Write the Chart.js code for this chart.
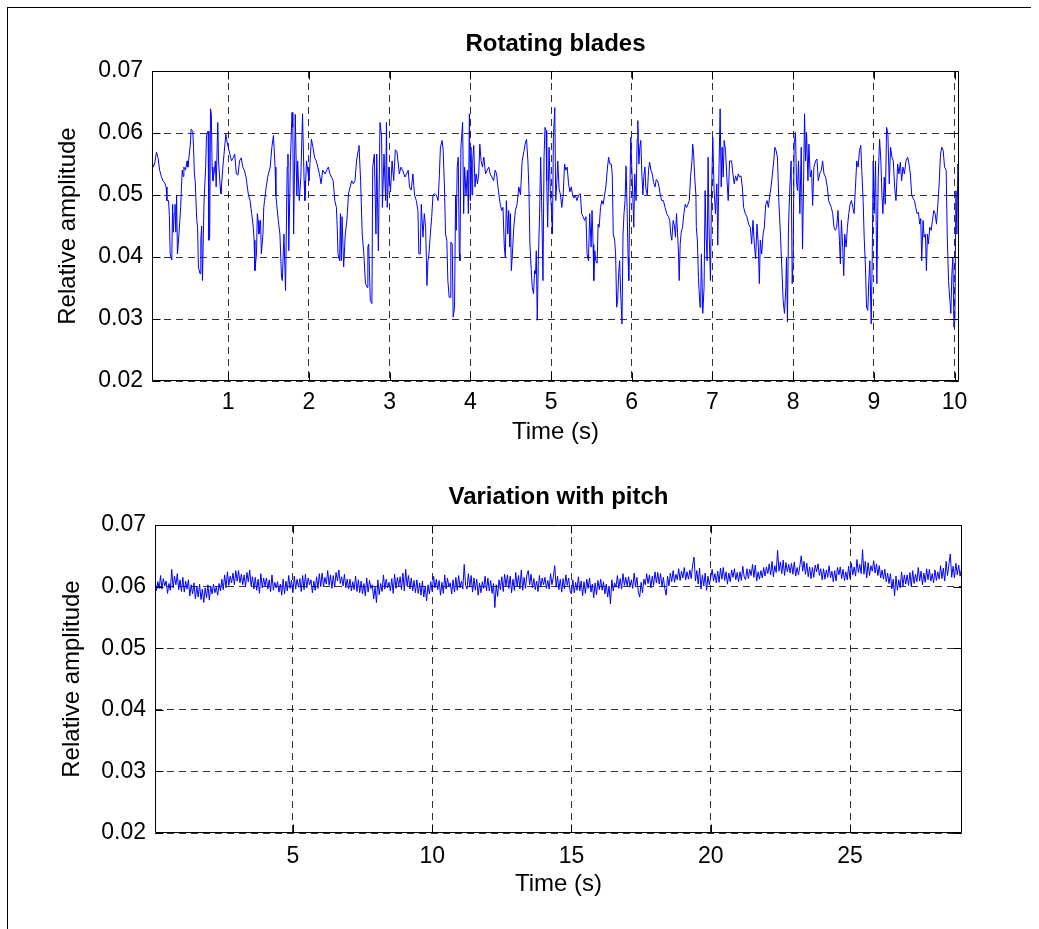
<!DOCTYPE html>
<html>
<head>
<meta charset="utf-8">
<script src="https://cdn.jsdelivr.net/npm/chart.js@4.4.1/dist/chart.umd.min.js"></script>
<style>
body{margin:0;background:#fff;}
#fig{position:relative;width:1039px;height:929px;overflow:hidden;background:#fff;}
#fig canvas{position:absolute;left:0;}
#frameTop{position:absolute;left:7px;top:7px;width:1024px;height:1px;background:#000;}
#frameLeft{position:absolute;left:7px;top:7px;width:1px;height:922px;background:#000;}
</style>
</head>
<body>
<div id="fig">
<canvas id="bladesChart" width="1039" height="460" style="top:0"></canvas>
<canvas id="pitchChart" width="1039" height="469" style="top:460px"></canvas>
<div id="frameTop"></div><div id="frameLeft"></div>
</div>
<script>
// top panel: rotating blades, time (s) and relative amplitude
const bladesTime = [
0.05,0.07,0.09,0.11,0.13,0.15,0.17,0.19,0.21,0.23,
0.24,0.26,0.27,0.28,0.30,0.31,0.32,0.33,0.34,0.35,
0.36,0.37,0.38,0.40,0.41,0.42,0.43,0.44,0.45,0.47,
0.49,0.50,0.53,0.54,0.56,0.57,0.58,0.59,0.61,0.62,
0.63,0.65,0.66,0.67,0.68,0.70,0.72,0.73,0.75,0.76,
0.77,0.78,0.79,0.80,0.81,0.83,0.84,0.85,0.87,0.88,
0.90,0.91,0.93,0.94,0.97,0.99,1.02,1.04,1.06,1.08,
1.10,1.12,1.14,1.16,1.18,1.20,1.22,1.25,1.27,1.29,
1.31,1.32,1.33,1.35,1.36,1.37,1.38,1.40,1.41,1.43,
1.44,1.45,1.47,1.49,1.52,1.54,1.56,1.58,1.59,1.60,
1.62,1.64,1.66,1.67,1.69,1.71,1.73,1.74,1.75,1.77,
1.79,1.80,1.81,1.83,1.85,1.86,1.88,1.90,1.92,1.94,
1.95,1.97,1.99,2.00,2.03,2.05,2.07,2.09,2.11,2.13,
2.15,2.17,2.20,2.22,2.24,2.26,2.28,2.30,2.32,2.34,
2.35,2.36,2.38,2.39,2.40,2.41,2.43,2.45,2.47,2.49,
2.51,2.53,2.55,2.57,2.59,2.61,2.62,2.64,2.66,2.68,
2.70,2.72,2.73,2.74,2.76,2.78,2.79,2.81,2.83,2.84,
2.86,2.88,2.90,2.91,2.93,2.95,2.96,2.97,2.99,3.01,
3.03,3.05,3.07,3.09,3.12,3.14,3.16,3.19,3.21,3.23,
3.246,3.267,3.288,3.308,3.330,3.350,3.362,3.379,3.392,3.413,
3.429,3.446,3.462,3.475,3.487,3.504,3.521,3.537,3.558,3.579,
3.600,3.613,3.629,3.650,3.663,3.679,3.692,3.708,3.721,3.738,
3.750,3.758,3.775,3.787,3.804,3.817,3.825,3.837,3.850,3.863,
3.871,3.883,3.904,3.917,3.929,3.946,3.963,3.975,3.988,4.000,
4.008,4.021,4.029,4.042,4.058,4.071,4.088,4.104,4.117,4.133,
4.150,4.167,4.188,4.208,4.229,4.246,4.267,4.288,4.308,4.325,
4.338,4.354,4.371,4.388,4.404,4.421,4.433,4.446,4.463,4.475,
4.488,4.496,4.508,4.521,4.538,4.558,4.579,4.600,4.621,4.642,
4.663,4.679,4.696,4.713,4.725,4.738,4.754,4.767,4.783,4.796,
4.808,4.817,4.829,4.842,4.858,4.871,4.883,4.900,4.913,4.925,
4.938,4.946,4.958,4.975,4.992,5.004,5.017,5.029,5.046,5.058,
5.071,5.083,5.100,5.117,5.133,5.150,5.167,5.183,5.200,5.217,
5.233,5.250,5.267,5.283,5.300,5.321,5.342,5.363,5.379,5.396,
5.417,5.433,5.446,5.463,5.479,5.496,5.508,5.521,5.529,5.542,
5.554,5.571,5.583,5.596,5.613,5.629,5.646,5.663,5.679,5.696,
5.713,5.729,5.746,5.758,5.771,5.788,5.800,5.813,5.825,5.838,
5.850,5.863,5.879,5.892,5.904,5.917,5.929,5.942,5.954,5.963,
5.975,5.988,6.000,6.013,6.025,6.037,6.054,6.067,6.075,6.088,
6.100,6.112,6.125,6.138,6.150,6.163,6.175,6.192,6.208,6.221,
6.238,6.254,6.271,6.288,6.304,6.321,6.338,6.354,6.371,6.392,
6.413,6.433,6.454,6.471,6.483,6.496,6.513,6.529,6.542,6.554,
6.567,6.579,6.588,6.600,6.613,6.629,6.646,6.663,6.679,6.696,
6.713,6.729,6.746,6.755,6.765,6.780,6.795,6.800,6.813,6.826,
6.834,6.846,6.855,6.863,6.880,6.896,6.909,6.920,6.934,6.946,
6.959,6.975,6.988,7.004,7.020,7.037,7.054,7.066,7.079,7.095,
7.108,7.120,7.133,7.145,7.162,7.178,7.195,7.212,7.237,7.253,
7.270,7.286,7.303,7.320,7.336,7.353,7.370,7.386,7.407,7.427,
7.448,7.469,7.486,7.502,7.519,7.535,7.552,7.569,7.581,7.593,
7.610,7.627,7.643,7.660,7.676,7.693,7.710,7.726,7.743,7.760,
7.772,7.788,7.805,7.822,7.842,7.859,7.876,7.892,7.909,7.917,
7.929,7.942,7.959,7.975,7.988,8.000,8.012,8.029,8.041,8.054,
8.066,8.083,8.100,8.116,8.129,8.141,8.154,8.166,8.183,8.195,
8.212,8.228,8.241,8.257,8.278,8.295,8.311,8.328,8.349,8.365,
8.382,8.402,8.423,8.440,8.456,8.473,8.490,8.506,8.523,8.539,
8.556,8.573,8.585,8.598,8.614,8.627,8.639,8.656,8.672,8.689,
8.705,8.722,8.739,8.755,8.772,8.788,8.805,8.822,8.838,8.850,
8.867,8.880,8.896,8.909,8.925,8.938,8.950,8.967,8.980,8.992,
9.004,9.021,9.037,9.054,9.071,9.087,9.100,9.112,9.129,9.141,
9.158,9.174,9.191,9.207,9.224,9.241,9.257,9.274,9.295,9.311,
9.328,9.344,9.361,9.378,9.398,9.419,9.436,9.452,9.469,9.485,
9.502,9.519,9.535,9.552,9.568,9.581,9.593,9.610,9.622,9.639,
9.651,9.664,9.676,9.693,9.710,9.726,9.743,9.759,9.776,9.793,
9.809,9.826,9.842,9.859,9.876,9.896,9.909,9.925,9.942,9.954,
9.967,9.979,9.992,10.004,10.017,10.029,10.041,10.054
];
const bladesAmp = [
0.0561,0.0545,0.0552,0.0569,0.0560,0.0540,0.0530,0.0523,0.0520,0.0513,
0.0491,0.0491,0.0467,0.0405,0.0395,0.0485,0.0440,0.0470,0.0485,0.0440,
0.0500,0.0405,0.0420,0.0459,0.0480,0.0513,0.0540,0.0530,0.0545,0.0540,
0.0555,0.0545,0.0582,0.0606,0.0603,0.0577,0.0534,0.0523,0.0459,0.0448,
0.0384,0.0373,0.0427,0.0450,0.0362,0.0490,0.0545,0.0596,0.0603,0.0427,
0.0432,0.0639,0.0631,0.0545,0.0523,0.0540,0.0555,0.0513,0.0617,0.0555,
0.0513,0.0502,0.0540,0.0555,0.0598,0.0582,0.0566,0.0555,0.0560,0.0566,
0.0534,0.0532,0.0555,0.0560,0.0545,0.0540,0.0529,0.0500,0.0491,0.0470,
0.0448,0.0427,0.0378,0.0405,0.0470,0.0459,0.0437,0.0459,0.0405,0.0437,
0.0480,0.0491,0.0513,0.0530,0.0545,0.0577,0.0596,0.0545,0.0500,0.0485,
0.0459,0.0437,0.0367,0.0362,0.0437,0.0346,0.0545,0.0566,0.0410,0.0555,
0.0633,0.0609,0.0437,0.0630,0.0500,0.0555,0.0491,0.0530,0.0631,0.0523,
0.0491,0.0555,0.0534,0.0523,0.0590,0.0577,0.0560,0.0555,0.0545,0.0534,
0.0518,0.0540,0.0534,0.0540,0.0545,0.0534,0.0529,0.0523,0.0491,0.0480,
0.0448,0.0405,0.0394,0.0470,0.0394,0.0465,0.0384,0.0437,0.0459,0.0502,
0.0513,0.0523,0.0518,0.0523,0.0555,0.0572,0.0580,0.0523,0.0437,0.0405,
0.0357,0.0351,0.0416,0.0421,0.0330,0.0325,0.0545,0.0566,0.0437,0.0566,
0.0410,0.0617,0.0595,0.0480,0.0566,0.0491,0.0617,0.0480,0.0545,0.0505,
0.0555,0.0523,0.0573,0.0570,0.0534,0.0545,0.0540,0.0529,0.0534,0.0540,
0.0513,0.0508,0.0534,0.0500,0.0491,0.0475,0.0405,0.0405,0.0485,0.0432,
0.0470,0.0448,0.0354,0.0394,0.0405,0.0437,0.0465,0.0500,0.0502,0.0500,
0.0491,0.0523,0.0577,0.0588,0.0572,0.0513,0.0437,0.0427,0.0362,0.0335,
0.0335,0.0424,0.0421,0.0303,0.0319,0.0500,0.0443,0.0545,0.0561,0.0405,
0.0394,0.0577,0.0617,0.0470,0.0545,0.0500,0.0540,0.0470,0.0631,0.0491,
0.0577,0.0500,0.0555,0.0580,0.0513,0.0534,0.0518,0.0534,0.0582,0.0555,
0.0545,0.0561,0.0534,0.0540,0.0545,0.0534,0.0529,0.0523,0.0540,0.0534,
0.0518,0.0500,0.0485,0.0475,0.0480,0.0416,0.0400,0.0491,0.0437,0.0475,
0.0416,0.0470,0.0378,0.0405,0.0448,0.0475,0.0485,0.0513,0.0500,0.0555,
0.0570,0.0582,0.0590,0.0555,0.0513,0.0421,0.0380,0.0351,0.0341,0.0378,
0.0373,0.0410,0.0298,0.0394,0.0470,0.0561,0.0491,0.0362,0.0560,0.0609,
0.0604,0.0523,0.0448,0.0577,0.0502,0.0480,0.0437,0.0593,0.0641,0.0491,
0.0520,0.0555,0.0510,0.0500,0.0480,0.0500,0.0550,0.0540,0.0545,0.0518,
0.0505,0.0513,0.0500,0.0495,0.0500,0.0491,0.0500,0.0502,0.0470,0.0465,
0.0459,0.0465,0.0405,0.0394,0.0470,0.0416,0.0475,0.0420,0.0362,0.0410,
0.0394,0.0390,0.0453,0.0448,0.0480,0.0491,0.0485,0.0500,0.0513,0.0540,
0.0561,0.0550,0.0550,0.0534,0.0437,0.0427,0.0405,0.0319,0.0330,0.0375,
0.0394,0.0340,0.0292,0.0437,0.0470,0.0491,0.0547,0.0480,0.0400,0.0362,
0.0491,0.0593,0.0545,0.0500,0.0448,0.0534,0.0491,0.0590,0.0620,0.0550,
0.0577,0.0588,0.0534,0.0500,0.0530,0.0545,0.0510,0.0500,0.0540,0.0553,
0.0540,0.0534,0.0520,0.0513,0.0525,0.0523,0.0513,0.0500,0.0491,0.0491,
0.0480,0.0470,0.0465,0.0459,0.0437,0.0427,0.0459,0.0450,0.0432,0.0470,
0.0440,0.0405,0.0362,0.0420,0.0440,0.0448,0.0470,0.0485,0.0480,0.0485,
0.0491,0.0530,0.0555,0.0582,0.0569,0.0529,0.0500,0.0448,0.0427,0.0367,
0.0346,0.0319,0.0335,0.0405,0.0309,0.0351,0.0507,0.0437,0.0394,0.0561,
0.0437,0.0362,0.0500,0.0593,0.0510,0.0470,0.0518,0.0419,0.0529,0.0639,
0.0513,0.0577,0.0529,0.0588,0.0572,0.0529,0.0491,0.0555,0.0555,0.0534,
0.0518,0.0531,0.0523,0.0534,0.0529,0.0531,0.0513,0.0480,0.0470,0.0465,
0.0453,0.0448,0.0421,0.0459,0.0421,0.0397,0.0453,0.0416,0.0357,0.0427,
0.0405,0.0437,0.0448,0.0485,0.0491,0.0480,0.0500,0.0513,0.0534,0.0555,
0.0577,0.0572,0.0561,0.0491,0.0437,0.0384,0.0330,0.0309,0.0351,0.0400,
0.0295,0.0448,0.0513,0.0555,0.0357,0.0394,0.0582,0.0601,0.0523,0.0507,
0.0555,0.0470,0.0577,0.0413,0.0518,0.0631,0.0555,0.0601,0.0523,0.0582,
0.0529,0.0540,0.0483,0.0545,0.0555,0.0558,0.0523,0.0534,0.0540,0.0555,
0.0534,0.0529,0.0513,0.0491,0.0485,0.0480,0.0470,0.0448,0.0443,0.0448,
0.0475,0.0427,0.0389,0.0459,0.0416,0.0370,0.0437,0.0416,0.0448,0.0470,
0.0485,0.0491,0.0480,0.0470,0.0513,0.0555,0.0545,0.0572,0.0580,0.0540,
0.0491,0.0432,0.0384,0.0319,0.0314,0.0362,0.0394,0.0292,0.0400,0.0555,
0.0470,0.0555,0.0357,0.0529,0.0590,0.0555,0.0500,0.0470,0.0529,0.0485,
0.0609,0.0598,0.0518,0.0577,0.0561,0.0555,0.0513,0.0491,0.0550,0.0534,
0.0553,0.0523,0.0545,0.0534,0.0555,0.0561,0.0550,0.0534,0.0500,0.0495,
0.0491,0.0480,0.0470,0.0472,0.0453,0.0462,0.0394,0.0459,0.0432,0.0437,
0.0378,0.0437,0.0421,0.0448,0.0443,0.0459,0.0475,0.0470,0.0453,0.0485,
0.0518,0.0566,0.0577,0.0572,0.0545,0.0540,0.0437,0.0362,0.0330,0.0309,
0.0373,0.0400,0.0287,0.0298,0.0507,0.0437,0.0550,0.0529
];

// bottom panel: variation with pitch, one row per second
const pitchTime = [
0.05,0.10,0.15,0.20,0.25,0.30,0.35,0.40,0.45,0.50,0.55,0.60,0.65,0.70,0.75,0.80,0.85,0.90,0.95,1.00,
1.05,1.10,1.15,1.20,1.25,1.30,1.35,1.40,1.45,1.50,1.55,1.60,1.65,1.70,1.75,1.80,1.85,1.90,1.95,2.00,
2.05,2.10,2.15,2.20,2.25,2.30,2.35,2.40,2.45,2.50,2.55,2.60,2.65,2.70,2.75,2.80,2.85,2.90,2.95,3.00,
3.05,3.10,3.15,3.20,3.25,3.30,3.35,3.40,3.45,3.50,3.55,3.60,3.65,3.70,3.75,3.80,3.85,3.90,3.95,4.00,
4.05,4.10,4.15,4.20,4.25,4.30,4.35,4.40,4.45,4.50,4.55,4.60,4.65,4.70,4.75,4.80,4.85,4.90,4.95,5.00,
5.05,5.10,5.15,5.20,5.25,5.30,5.35,5.40,5.45,5.50,5.55,5.60,5.65,5.70,5.75,5.80,5.85,5.90,5.95,6.00,
6.05,6.10,6.15,6.20,6.25,6.30,6.35,6.40,6.45,6.50,6.55,6.60,6.65,6.70,6.75,6.80,6.85,6.90,6.95,7.00,
7.05,7.10,7.15,7.20,7.25,7.30,7.35,7.40,7.45,7.50,7.55,7.60,7.65,7.70,7.75,7.80,7.85,7.90,7.95,8.00,
8.05,8.10,8.15,8.20,8.25,8.30,8.35,8.40,8.45,8.50,8.55,8.60,8.65,8.70,8.75,8.80,8.85,8.90,8.95,9.00,
9.05,9.10,9.15,9.20,9.25,9.30,9.35,9.40,9.45,9.50,9.55,9.60,9.65,9.70,9.75,9.80,9.85,9.90,9.95,10.00,
10.05,10.10,10.15,10.20,10.25,10.30,10.35,10.40,10.45,10.50,10.55,10.60,10.65,10.70,10.75,10.80,10.85,10.90,10.95,11.00,
11.05,11.10,11.15,11.20,11.25,11.30,11.35,11.40,11.45,11.50,11.55,11.60,11.65,11.70,11.75,11.80,11.85,11.90,11.95,12.00,
12.05,12.10,12.15,12.20,12.25,12.30,12.35,12.40,12.45,12.50,12.55,12.60,12.65,12.70,12.75,12.80,12.85,12.90,12.95,13.00,
13.05,13.10,13.15,13.20,13.25,13.30,13.35,13.40,13.45,13.50,13.55,13.60,13.65,13.70,13.75,13.80,13.85,13.90,13.95,14.00,
14.05,14.10,14.15,14.20,14.25,14.30,14.35,14.40,14.45,14.50,14.55,14.60,14.65,14.70,14.75,14.80,14.85,14.90,14.95,15.00,
15.05,15.10,15.15,15.20,15.25,15.30,15.35,15.40,15.45,15.50,15.55,15.60,15.65,15.70,15.75,15.80,15.85,15.90,15.95,16.00,
16.05,16.10,16.15,16.20,16.25,16.30,16.35,16.40,16.45,16.50,16.55,16.60,16.65,16.70,16.75,16.80,16.85,16.90,16.95,17.00,
17.05,17.10,17.15,17.20,17.25,17.30,17.35,17.40,17.45,17.50,17.55,17.60,17.65,17.70,17.75,17.80,17.85,17.90,17.95,18.00,
18.05,18.10,18.15,18.20,18.25,18.30,18.35,18.40,18.45,18.50,18.55,18.60,18.65,18.70,18.75,18.80,18.85,18.90,18.95,19.00,
19.05,19.10,19.15,19.20,19.25,19.30,19.35,19.40,19.45,19.50,19.55,19.60,19.65,19.70,19.75,19.80,19.85,19.90,19.95,20.00,
20.05,20.10,20.15,20.20,20.25,20.30,20.35,20.40,20.45,20.50,20.55,20.60,20.65,20.70,20.75,20.80,20.85,20.90,20.95,21.00,
21.05,21.10,21.15,21.20,21.25,21.30,21.35,21.40,21.45,21.50,21.55,21.60,21.65,21.70,21.75,21.80,21.85,21.90,21.95,22.00,
22.05,22.10,22.15,22.20,22.25,22.30,22.35,22.40,22.45,22.50,22.55,22.60,22.65,22.70,22.75,22.80,22.85,22.90,22.95,23.00,
23.05,23.10,23.15,23.20,23.25,23.30,23.35,23.40,23.45,23.50,23.55,23.60,23.65,23.70,23.75,23.80,23.85,23.90,23.95,24.00,
24.05,24.10,24.15,24.20,24.25,24.30,24.35,24.40,24.45,24.50,24.55,24.60,24.65,24.70,24.75,24.80,24.85,24.90,24.95,25.00,
25.05,25.10,25.15,25.20,25.25,25.30,25.35,25.40,25.45,25.50,25.55,25.60,25.65,25.70,25.75,25.80,25.85,25.90,25.95,26.00,
26.05,26.10,26.15,26.20,26.25,26.30,26.35,26.40,26.45,26.50,26.55,26.60,26.65,26.70,26.75,26.80,26.85,26.90,26.95,27.00,
27.05,27.10,27.15,27.20,27.25,27.30,27.35,27.40,27.45,27.50,27.55,27.60,27.65,27.70,27.75,27.80,27.85,27.90,27.95,28.00,
28.05,28.10,28.15,28.20,28.25,28.30,28.35,28.40,28.45,28.50,28.55,28.60,28.65,28.70,28.75,28.80,28.85,28.90,28.95,29.00
];
const pitchAmp = [
0.0612,0.0593,0.0608,0.0597,0.0618,0.0596,0.0613,0.0601,0.0609,0.0589,0.0605,0.0594,0.0628,0.0598,0.0617,0.0603,0.0621,0.0595,0.0611,0.0592,
0.0615,0.0591,0.0609,0.0596,0.0611,0.0585,0.0603,0.0588,0.0606,0.0580,0.0600,0.0583,0.0604,0.0579,0.0596,0.0574,0.0598,0.0582,0.0603,0.0578,
0.0601,0.0588,0.0604,0.0590,0.0599,0.0586,0.0605,0.0593,0.0612,0.0595,0.0619,0.0598,0.0624,0.0602,0.0617,0.0606,0.0622,0.0603,0.0626,0.0609,
0.0626,0.0606,0.0620,0.0603,0.0619,0.0600,0.0623,0.0608,0.0627,0.0601,0.0616,0.0596,0.0615,0.0594,0.0612,0.0589,0.0621,0.0598,0.0614,0.0601,
0.0614,0.0596,0.0611,0.0592,0.0619,0.0594,0.0607,0.0598,0.0608,0.0591,0.0604,0.0586,0.0612,0.0588,0.0609,0.0593,0.0618,0.0597,0.0610,0.0590,
0.0617,0.0596,0.0612,0.0599,0.0613,0.0592,0.0618,0.0595,0.0620,0.0598,0.0614,0.0603,0.0611,0.0590,0.0609,0.0594,0.0616,0.0597,0.0621,0.0600,
0.0622,0.0600,0.0615,0.0604,0.0626,0.0602,0.0619,0.0597,0.0618,0.0599,0.0623,0.0609,0.0627,0.0605,0.0616,0.0601,0.0620,0.0598,0.0612,0.0596,
0.0612,0.0593,0.0608,0.0595,0.0617,0.0592,0.0611,0.0590,0.0609,0.0588,0.0605,0.0585,0.0614,0.0591,0.0610,0.0597,0.0603,0.0580,0.0599,0.0574,
0.0611,0.0587,0.0605,0.0592,0.0619,0.0596,0.0612,0.0598,0.0607,0.0593,0.0613,0.0589,0.0620,0.0597,0.0615,0.0601,0.0616,0.0595,0.0622,0.0593,
0.0628,0.0601,0.0618,0.0596,0.0614,0.0593,0.0610,0.0590,0.0611,0.0589,0.0606,0.0586,0.0609,0.0583,0.0601,0.0577,0.0603,0.0588,0.0608,0.0592,
0.0617,0.0598,0.0612,0.0595,0.0610,0.0586,0.0607,0.0589,0.0619,0.0596,0.0614,0.0600,0.0606,0.0588,0.0611,0.0591,0.0615,0.0594,0.0618,0.0598,
0.0609,0.0596,0.0636,0.0602,0.0596,0.0621,0.0599,0.0618,0.0591,0.0614,0.0594,0.0612,0.0586,0.0606,0.0590,0.0608,0.0597,0.0617,0.0593,0.0614,
0.0593,0.0610,0.0589,0.0605,0.0566,0.0603,0.0584,0.0611,0.0595,0.0616,0.0592,0.0620,0.0601,0.0619,0.0597,0.0617,0.0590,0.0612,0.0594,0.0623,
0.0600,0.0618,0.0596,0.0627,0.0594,0.0615,0.0597,0.0619,0.0626,0.0603,0.0620,0.0598,0.0613,0.0595,0.0609,0.0592,0.0618,0.0599,0.0614,0.0603,
0.0615,0.0597,0.0610,0.0596,0.0621,0.0603,0.0616,0.0634,0.0599,0.0617,0.0595,0.0612,0.0591,0.0613,0.0596,0.0619,0.0602,0.0614,0.0593,0.0588,
0.0611,0.0590,0.0607,0.0594,0.0616,0.0593,0.0609,0.0585,0.0608,0.0589,0.0612,0.0597,0.0614,0.0591,0.0604,0.0582,0.0606,0.0587,0.0610,0.0595,
0.0612,0.0594,0.0608,0.0588,0.0604,0.0583,0.0601,0.0572,0.0611,0.0593,0.0606,0.0599,0.0618,0.0597,0.0613,0.0596,0.0621,0.0602,0.0615,0.0601,
0.0616,0.0599,0.0611,0.0597,0.0622,0.0600,0.0615,0.0591,0.0583,0.0607,0.0590,0.0612,0.0603,0.0621,0.0605,0.0619,0.0598,0.0617,0.0602,0.0624,
0.0606,0.0623,0.0604,0.0621,0.0600,0.0615,0.0597,0.0586,0.0617,0.0601,0.0622,0.0608,0.0626,0.0607,0.0620,0.0611,0.0629,0.0610,0.0625,0.0614,
0.0631,0.0611,0.0624,0.0612,0.0627,0.0613,0.0635,0.0648,0.0609,0.0626,0.0604,0.0630,0.0596,0.0619,0.0601,0.0622,0.0594,0.0617,0.0603,0.0615,
0.0628,0.0609,0.0621,0.0606,0.0625,0.0607,0.0630,0.0612,0.0631,0.0610,0.0624,0.0604,0.0622,0.0608,0.0627,0.0615,0.0629,0.0611,0.0623,0.0608,
0.0624,0.0610,0.0633,0.0616,0.0611,0.0629,0.0613,0.0628,0.0618,0.0636,0.0615,0.0635,0.0609,0.0624,0.0612,0.0626,0.0614,0.0631,0.0617,0.0632,
0.0621,0.0637,0.0619,0.0641,0.0616,0.0634,0.0623,0.0659,0.0625,0.0640,0.0621,0.0643,0.0618,0.0639,0.0624,0.0636,0.0622,0.0638,0.0620,0.0640,
0.0617,0.0631,0.0619,0.0634,0.0650,0.0625,0.0641,0.0620,0.0638,0.0616,0.0632,0.0613,0.0631,0.0615,0.0635,0.0624,0.0637,0.0618,0.0629,0.0611,
0.0629,0.0612,0.0627,0.0615,0.0634,0.0614,0.0625,0.0608,0.0626,0.0609,0.0631,0.0619,0.0632,0.0613,0.0628,0.0610,0.0624,0.0611,0.0633,0.0613,
0.0638,0.0619,0.0632,0.0617,0.0644,0.0623,0.0636,0.0621,0.0660,0.0620,0.0641,0.0614,0.0639,0.0618,0.0634,0.0625,0.0642,0.0622,0.0637,0.0618,
0.0634,0.0614,0.0627,0.0612,0.0628,0.0608,0.0622,0.0605,0.0621,0.0596,0.0612,0.0585,0.0617,0.0594,0.0611,0.0598,0.0624,0.0601,0.0619,0.0604,
0.0619,0.0602,0.0623,0.0600,0.0626,0.0605,0.0620,0.0608,0.0631,0.0609,0.0625,0.0603,0.0622,0.0607,0.0629,0.0611,0.0628,0.0609,0.0621,0.0606,
0.0627,0.0610,0.0624,0.0612,0.0634,0.0613,0.0630,0.0609,0.0641,0.0618,0.0636,0.0653,0.0615,0.0633,0.0614,0.0638,0.0619,0.0635,0.0617,0.0628
];

const bladesXTicks = [1,2,3,4,5,6,7,8,9,10];
const pitchXTicks = [5,10,15,20,25];
const ampTicks = [0.02,0.03,0.04,0.05,0.06,0.07];

const FONT = "'Liberation Sans', Arial, Helvetica, sans-serif";

// solid box round the axes, inward tick marks, and the bold title centred over the axes
const axisBox = {
  id: 'axisBox',
  afterDatasetsDraw(chart, args, opts) {
    const {ctx, chartArea: a, scales: {x, y}} = chart;
    const l = Math.round(a.left) + 0.5, r = Math.round(a.right) - 0.5;
    const t = Math.round(a.top) + 0.5, b = Math.round(a.bottom) - 0.5;
    ctx.save();
    ctx.strokeStyle = '#000';
    ctx.lineWidth = 1;
    ctx.setLineDash([]);
    ctx.beginPath();
    ctx.rect(l, t, r - l, b - t);
    x.ticks.forEach(tk => {
      const px = Math.round(x.getPixelForValue(tk.value)) + 0.5;
      ctx.moveTo(px, b); ctx.lineTo(px, b - 8);
      ctx.moveTo(px, t); ctx.lineTo(px, t + 8);
    });
    y.ticks.forEach(tk => {
      const py = Math.round(y.getPixelForValue(tk.value)) + 0.5;
      ctx.moveTo(l, py); ctx.lineTo(l + 8, py);
      ctx.moveTo(r, py); ctx.lineTo(r - 8, py);
    });
    ctx.stroke();

    ctx.fillStyle = '#000';
    ctx.font = 'bold 24px ' + FONT;
    ctx.textAlign = 'center';
    ctx.textBaseline = 'middle';
    ctx.fillText(opts.text, (a.left + a.right) / 2, opts.y);
    ctx.restore();
  }
};

function drawPanel(id, c) {
  const n = Math.min(c.time.length, c.amp.length);
  const pts = [];
  for (let i = 0; i < n; i++) pts.push({x: c.time[i], y: c.amp[i]});
  return new Chart(document.getElementById(id), {
    type: 'line',
    data: {
      datasets: [{
        data: pts,
        borderColor: '#0000ff',
        borderWidth: 1,
        pointRadius: 0,
        tension: 0,
        fill: false
      }]
    },
    options: {
      responsive: false,
      animation: false,
      events: [],
      layout: {padding: {left: 0, right: c.padRight, top: c.padTop, bottom: 0}},
      plugins: {
        legend: {display: false},
        tooltip: {enabled: false},
        title: {display: false},
        axisBox: {text: c.title, y: c.titleY}
      },
      scales: {
        x: {
          type: 'linear',
          min: c.xMin,
          max: c.xMax,
          afterBuildTicks: s => { s.ticks = c.xTicks.map(v => ({value: v})); },
          afterFit: s => { s.height = c.xAxisH; },
          ticks: {color: '#000', font: {family: FONT, size: 23}, padding: c.xTickPad, maxRotation: 0, autoSkip: false,
                  callback: v => String(v)},
          grid: {color: 'rgba(0,0,0,0.8)', drawTicks: false, lineWidth: 1},
          border: {display: false, dash: [7, 5]},
          title: {display: true, text: 'Time (s)', color: '#000', font: {family: FONT, size: 24},
                  padding: {top: 0, bottom: c.xTitlePad}}
        },
        y: {
          min: 0.02,
          max: 0.07,
          afterBuildTicks: s => { s.ticks = ampTicks.map(v => ({value: v})); },
          afterFit: s => { s.width = c.yAxisW; },
          ticks: {color: '#000', font: {family: FONT, size: 23}, padding: 9, autoSkip: false,
                  callback: v => v.toFixed(2)},
          grid: {color: 'rgba(0,0,0,0.8)', drawTicks: false, lineWidth: 1},
          border: {display: false, dash: [7, 5]},
          title: {display: true, text: 'Relative amplitude', color: '#000', font: {family: FONT, size: 24},
                  padding: {top: c.yTitlePad, bottom: 0}}
        }
      }
    },
    plugins: [axisBox]
  });
}

drawPanel('bladesChart', {
  time: bladesTime, amp: bladesAmp, title: 'Rotating blades', titleY: 44,
  xMin: 0.055, xMax: 10.055, xTicks: bladesXTicks,
  padRight: 80, padTop: 71, yAxisW: 152, xAxisH: 79, xTickPad: 8,
  xTitlePad: 13.6, yTitlePad: 53.6
});

drawPanel('pitchChart', {
  time: pitchTime, amp: pitchAmp, title: 'Variation with pitch', titleY: 37,
  xMin: 0.05, xMax: 29.02, xTicks: pitchXTicks,
  padRight: 77, padTop: 65, yAxisW: 155, xAxisH: 96, xTickPad: 10,
  xTitlePad: 30.6, yTitlePad: 57.6
});
</script>
</body>
</html>
